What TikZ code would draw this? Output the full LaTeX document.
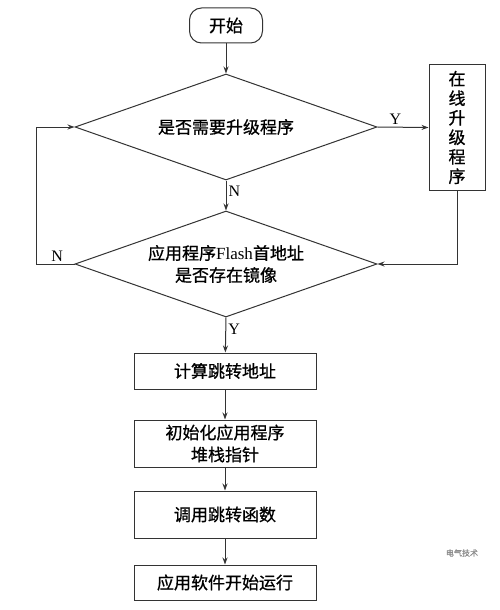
\documentclass[tikz,border=0pt]{standalone}
\usepackage{fontspec}
\setmainfont{Liberation Serif}
\newfontfamily\cjk[FakeBold=0.8]{Noto Sans CJK SC}
\usetikzlibrary{shapes.geometric,arrows.meta}
\begin{document}
\begin{tikzpicture}[x=1pt,y=-1pt,
  line width=1pt,
  every node/.style={draw=black!80},
  box/.style={draw, rectangle, minimum width=182pt, inner sep=0pt, font=\cjk\fontsize{17}{22}\selectfont, align=center},
  dia/.style={draw, diamond, shape aspect=2.85, inner sep=0pt, minimum width=302pt, minimum height=106pt, font=\fontsize{17}{22}\selectfont, align=center},
  arr/.style={draw=black!80, -{Stealth[length=7pt,width=5pt]}},
  lab/.style={draw=none, font=\fontsize{16}{16}\selectfont, inner sep=2pt}
]
\useasboundingbox (0,0) rectangle (500,610);
\fill[white] (0,0) rectangle (500,610);
\node[draw, rounded corners=12pt, minimum width=73pt, minimum height=35pt, font=\cjk\fontsize{17}{22}\selectfont] (start) at (226,25.5) {开始};
\node[dia, font=\cjk\fontsize{17}{22}\selectfont] (d1) at (226,127) {是否需要升级程序};
\node[dia] (d2) at (226,264) {\rule{0pt}{12pt}{\cjk 应用程序}Flash{\cjk 首地址}\\{\cjk 是否存在镜像}};
\node[draw, rectangle, minimum width=56pt, minimum height=125pt, inner sep=0pt, align=center, font=\cjk\fontsize{17}{19.5}\selectfont] (up) at (457,127.5) {在\\线\\升\\级\\程\\序};
\node[box, minimum height=36pt] (b1) at (225,371) {计算跳转地址};
\node[box, minimum height=47pt] (b2) at (225,443.5) {初始化应用程序\\堆栈指针};
\node[box, minimum height=47pt] (b3) at (225,514.5) {调用跳转函数};
\node[box, minimum height=35pt] (b4) at (225,582.5) {应用软件开始运行};
\coordinate (lx) at (36,200);

\draw[arr] (start) -- (d1);
\draw[arr] (d1.east) -- node[lab, above, pos=0.35] {Y} (up.west);
\draw[arr] (d1.south) -- node[lab, right, pos=0.35] {N} (d2.north);
\draw[arr] (up.south) |- (d2.east);
\draw[arr] (d2.west) -- node[lab, above, pos=0.45] {N} (d2.west -| lx) -- (d1.west -| lx) -- (d1.west);
\draw[arr] (d2.south) -- node[lab, right, pos=0.35] {Y} (b1);
\draw[arr] (b1) -- (b2);
\draw[arr] (b2) -- (b3);
\draw[arr] (b3) -- (b4);

\node[draw=none, text=black!45, font=\cjk\fontsize{8}{10}\selectfont] (wm) at (462,553) {电气技术};
\end{tikzpicture}
\end{document}
